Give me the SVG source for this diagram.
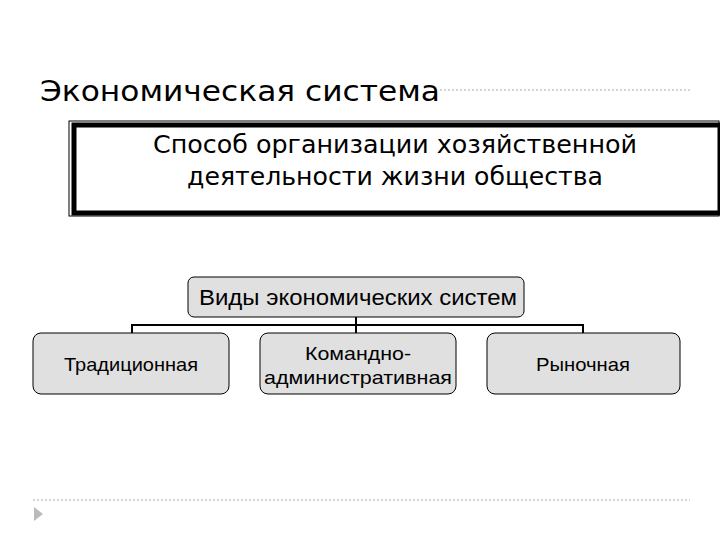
<svg xmlns="http://www.w3.org/2000/svg" width="720" height="540" viewBox="0 0 720 540">
<style>
.t{font-family:"DejaVu Sans",sans-serif;fill:#000}
.a{font-family:"Liberation Sans",Arial,sans-serif;fill:#000;text-anchor:middle}
.n{fill:#e0e0e0;stroke:#000;stroke-width:1}
.c{stroke:#000;stroke-width:2;fill:none}
.d{stroke:#aaa;stroke-width:1;stroke-dasharray:2 2;fill:none}
</style>
<rect width="720" height="540" fill="#fff"/>
<path class="d" d="M440 90H690M33 500H690"/>
<polygon points="34,507 43,514 34,521" fill="#bbb"/>
<text class="t" x="40" y="101" font-size="29" textLength="400" lengthAdjust="spacingAndGlyphs">Экономическая система</text>
<g id="def">
<rect x="69" y="121" width="650" height="95" fill="#fff" stroke="#000" stroke-width="1"/>
<rect x="74" y="125" width="646" height="88" fill="none" stroke="#000" stroke-width="5"/>
<text class="t" x="395" y="153" font-size="24" text-anchor="middle" textLength="484" lengthAdjust="spacingAndGlyphs">Способ организации хозяйственной</text>
<text class="t" x="395" y="185" font-size="24" text-anchor="middle" textLength="416" lengthAdjust="spacingAndGlyphs">деятельности жизни общества</text>
</g>
<g id="connectors">
<path class="c" d="M356 317V325M132 333V325H583V333M356 325V333"/>
</g>
<g id="vidy"><rect class="n" x="188" y="277" width="336" height="40" rx="6"/><text class="a" x="358" y="305" font-size="22" textLength="318" lengthAdjust="spacingAndGlyphs">Виды экономических систем</text></g>
<g id="trad"><rect class="n" x="33" y="333" width="196" height="61" rx="8"/><text class="a" x="131" y="371" font-size="19" textLength="134" lengthAdjust="spacingAndGlyphs">Традиционная</text></g>
<g id="kom"><rect class="n" x="260" y="333" width="196" height="61" rx="8"/><text class="a" x="358" y="360" font-size="19" textLength="106" lengthAdjust="spacingAndGlyphs">Командно-</text><text class="a" x="358" y="384" font-size="19" textLength="188" lengthAdjust="spacingAndGlyphs">административная</text></g>
<g id="ryn"><rect class="n" x="487" y="333" width="193" height="61" rx="8"/><text class="a" x="583" y="371" font-size="19" textLength="94" lengthAdjust="spacingAndGlyphs">Рыночная</text></g>
</svg>
